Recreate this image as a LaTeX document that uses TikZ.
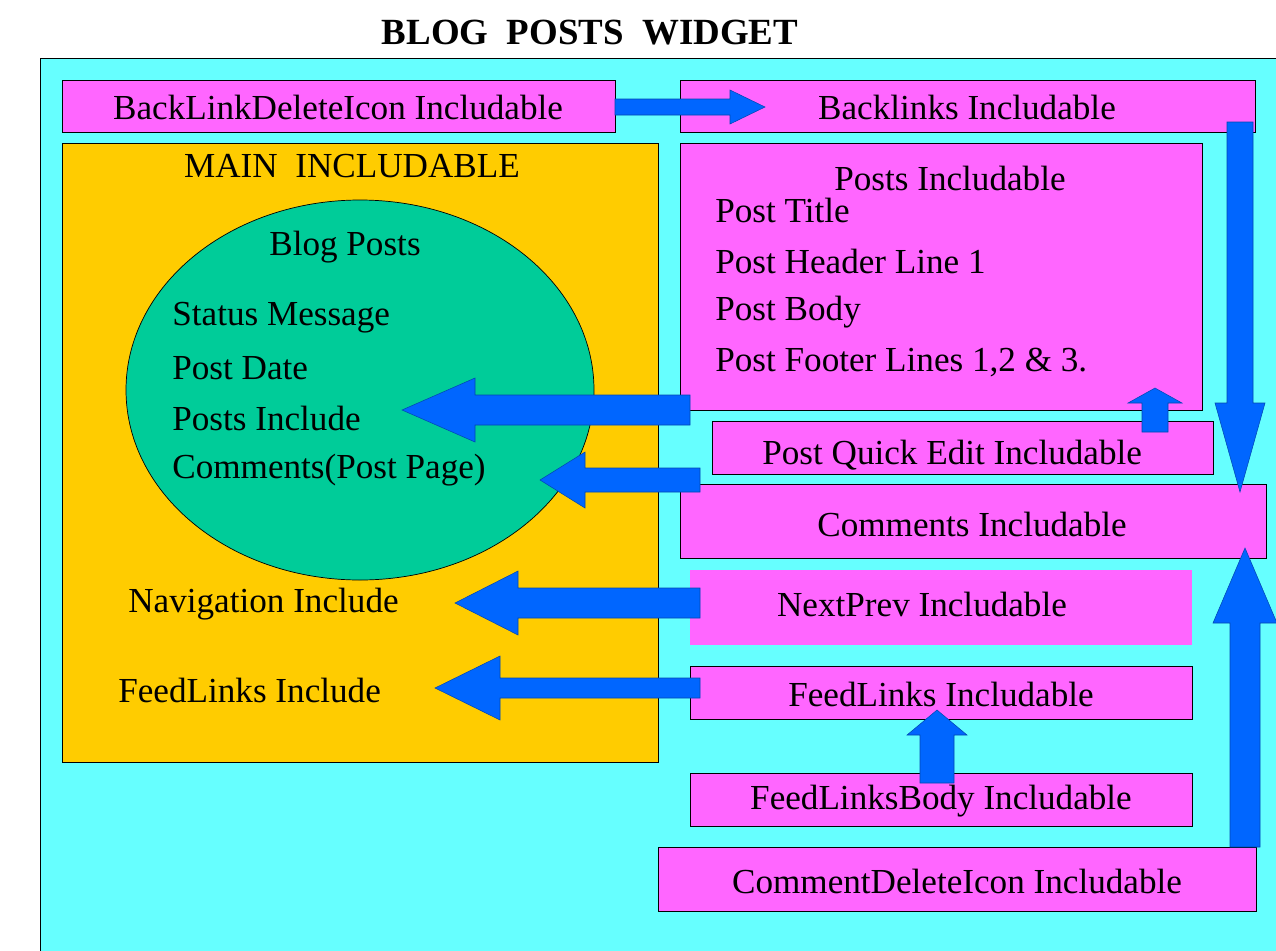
\documentclass[tikz,border=0pt]{standalone}
\usepackage{fontspec}
\setmainfont{Liberation Serif}
\usetikzlibrary{shapes.geometric}
\definecolor{bgcyan}{HTML}{66FFFF}
\definecolor{boxpink}{HTML}{FF66FF}
\definecolor{mainorange}{HTML}{FFCC00}
\definecolor{ellgreen}{HTML}{00CC99}
\definecolor{arrblue}{HTML}{0066FF}
\tikzset{
  pinkbox/.style={fill=boxpink,draw=black,line width=0.4pt},
  txt/.style={font=\fontsize{20}{24}\selectfont,inner sep=0pt},
  blk/.style={fill=arrblue,draw=arrblue!70!black,line width=0.3pt}
}
% horizontal block arrow: tail x, tip x, y, shaft half, head half, head length
\newcommand{\harr}[6]{\filldraw[blk] (#1,#3-#4) -- (#2+#6,#3-#4) -- (#2+#6,#3-#5) -- (#2,#3) -- (#2+#6,#3+#5) -- (#2+#6,#3+#4) -- (#1,#3+#4) -- cycle;}
% vertical block arrow: x, tail y, tip y, shaft half, head half, head length (signed)
\newcommand{\varr}[6]{\filldraw[blk] (#1-#4,#2) -- (#1-#4,#3+#6) -- (#1-#5,#3+#6) -- (#1,#3) -- (#1+#5,#3+#6) -- (#1+#4,#3+#6) -- (#1+#4,#2) -- cycle;}
\begin{document}
\begin{tikzpicture}[x=0.02cm,y=-0.02cm]
\useasboundingbox (0,0) rectangle (1276,951);
\node[font=\fontsize{21}{25}\selectfont\bfseries,inner sep=0pt] (title) at (590,33) {BLOG~~POSTS~~WIDGET};
\filldraw[fill=bgcyan,draw=black,line width=0.4pt] (40,58) rectangle (1290,960);
% boxes
\filldraw[pinkbox] (62,80) rectangle (615,132);
\node[txt] (bldi) at (338,107) {BackLinkDeleteIcon Includable};
\filldraw[pinkbox] (680,80) rectangle (1255,132);
\node[txt] (bl) at (967,107) {Backlinks Includable};
\filldraw[fill=mainorange,draw=black,line width=0.4pt] (62,143) rectangle (658,762);
\node[txt] (main) at (352,166) {MAIN~~INCLUDABLE};
\filldraw[fill=ellgreen,draw=black,line width=0.4pt] (360,390) ellipse [x radius=234,y radius=190];
\node[txt] (blog) at (345,247) {Blog Posts};
\node[txt,anchor=west] (stat) at (172,318) {Status Message};
\node[txt,anchor=west] (pdate) at (172,368) {Post Date};
\node[txt,anchor=west] (pinc) at (172,418) {Posts Include};
\node[txt,anchor=west] (cinc) at (172,470) {Comments(Post Page)};
\node[txt,anchor=west] (nav) at (128,604) {Navigation Include};
\node[txt,anchor=west] (flinc) at (118,690) {FeedLinks Include};
\filldraw[pinkbox] (680,143) rectangle (1202,410);
\node[txt] (posts) at (950,178) {Posts Includable};
\node[txt,anchor=west] (ptitle) at (715,210) {Post Title};
\node[txt,anchor=west] (phead) at (715,261) {Post Header Line 1};
\node[txt,anchor=west] (pbody) at (715,312) {Post Body};
\node[txt,anchor=west] (pfoot) at (715,363) {Post Footer Lines 1,2 \& 3.};
\filldraw[pinkbox] (712,421) rectangle (1213,474);
\node[txt,anchor=west] (pqe) at (762,455) {Post Quick Edit Includable};
\filldraw[pinkbox] (680,484) rectangle (1266,558);
\node[txt] (com) at (972,524) {Comments Includable};
\fill[boxpink] (690,570) rectangle (1192,645);
\node[txt] (np) at (922,604) {NextPrev Includable};
\filldraw[pinkbox] (690,666) rectangle (1192,719);
\node[txt] (fl) at (941,694) {FeedLinks Includable};
\filldraw[pinkbox] (690,773) rectangle (1192,826);
\node[txt] (flb) at (941,801) {FeedLinksBody Includable};
\filldraw[pinkbox] (658,847) rectangle (1256,911);
\node[txt] (cdi) at (957,881) {CommentDeleteIcon Includable};
% arrows
\harr{615}{765}{107}{8}{17}{-35}
\varr{1240}{122}{492}{13}{25}{-89}
\harr{690}{402}{410}{15}{32}{73}
\varr{1155}{432}{388}{13}{27}{15}
\harr{700}{540}{480}{12}{28}{45}
\harr{700}{455}{603}{15}{32}{63}
\harr{700}{435}{688}{10}{32}{65}
\varr{937}{783}{710}{17}{30}{25}
\varr{1245}{847}{548}{15}{32}{75}
\end{tikzpicture}
\end{document}
